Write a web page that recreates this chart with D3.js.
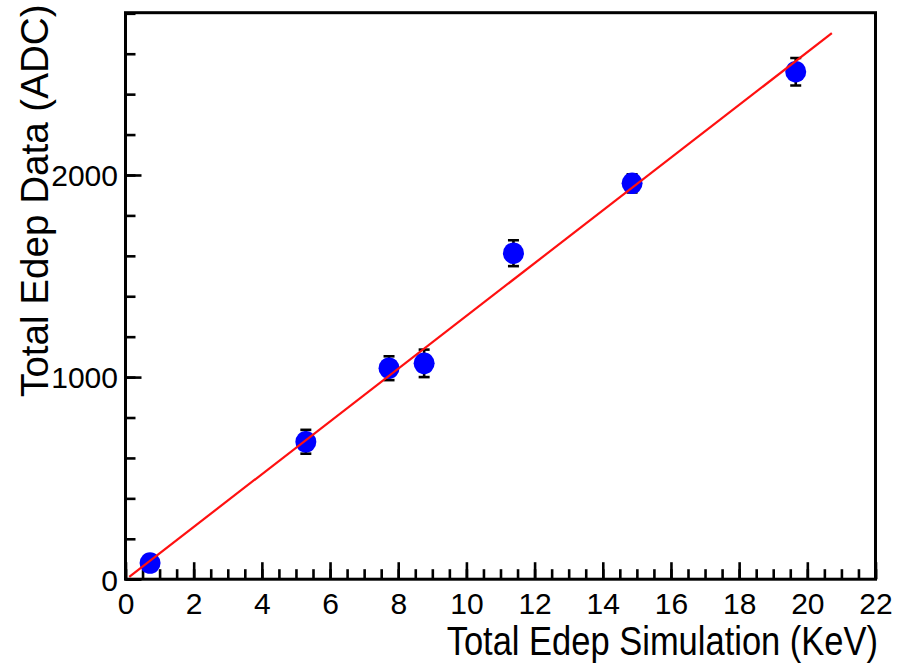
<!DOCTYPE html>
<html>
<head>
<meta charset="utf-8">
<script src="https://cdn.jsdelivr.net/npm/d3@7"></script>
<style>
  html, body { margin: 0; padding: 0; background: #fff; }
  svg { display: block; }
  text { font-family: "Liberation Sans", Arial, Helvetica, sans-serif; fill: #000; }
</style>
</head>
<body>
<svg id="chart" width="903" height="664"></svg>
<script>
// Measured energy deposits: simulation (keV) vs. data (ADC counts)
const simEnergy = [0.72, 5.29, 7.73, 8.76, 11.38, 14.86, 19.66];
const adcData   = [80, 680, 1044, 1068, 1613, 1959, 2511];
const adcError  = [30, 59, 59, 68, 64, 45, 68];

// Linear fit  ADC = slope * E + intercept, over the fitted range
const fitSlope = 130.5;
const fitIntercept = -2.4;
const fitRange = [0.11, 20.72];

// Axis ticks
const xMajorTicks = [0, 2, 4, 6, 8, 10, 12, 14, 16, 18, 20, 22];
const xMinorTicks = d3.range(0, 22.01, 0.5);
const yMajorTicks = [0, 1000, 2000];
const yMinorTicks = d3.range(0, 2801, 200);

const xTitle = "Total Edep Simulation (KeV)";
const yTitle = "Total Edep Data (ADC)";

const frame = { left: 125.5, right: 875.5, top: 12.7, bottom: 579.2 };

const svg = d3.select("#chart");

const x = d3.scaleLinear().domain([0, 22]).range([frame.left, frame.right]);
const y = d3.scaleLinear().domain([0, 2803]).range([frame.bottom, frame.top]);

// Minor ticks (no labels)
const xMinor = svg.append("g")
  .attr("transform", `translate(0,${frame.bottom})`)
  .call(d3.axisBottom(x).tickValues(xMinorTicks).tickSize(-10).tickFormat(""));
const yMinor = svg.append("g")
  .attr("transform", `translate(${frame.left},0)`)
  .call(d3.axisLeft(y).tickValues(yMinorTicks).tickSize(-10).tickFormat(""));

// Major ticks with labels
const xMajor = svg.append("g")
  .attr("transform", `translate(0,${frame.bottom})`)
  .call(d3.axisBottom(x).tickValues(xMajorTicks).tickSize(-17).tickFormat(d3.format("d")));
const yMajor = svg.append("g")
  .attr("transform", `translate(${frame.left},0)`)
  .call(d3.axisLeft(y).tickValues(yMajorTicks).tickSize(-16).tickFormat(d3.format("d")));

[xMinor, yMinor, xMajor, yMajor].forEach(g => {
  g.select(".domain").remove();
  g.selectAll(".tick line").attr("stroke", "#000").attr("stroke-width", 2.6);
});

xMajor.selectAll(".tick text")
  .attr("dy", null)
  .attr("y", 34.8)
  .attr("font-size", 30)
  .attr("font-family", null);
yMajor.selectAll(".tick text")
  .attr("dy", null)
  .attr("x", -7.5)
  .attr("y", 10.8)
  .attr("font-size", 30)
  .attr("font-family", null);

// Clip for marks inside the frame
svg.append("clipPath").attr("id", "frameClip")
  .append("rect")
  .attr("x", frame.left).attr("y", frame.top)
  .attr("width", frame.right - frame.left)
  .attr("height", frame.bottom - frame.top);

const plot = svg.append("g").attr("clip-path", "url(#frameClip)");

const points = simEnergy.map((e, i) => ({ e, adc: adcData[i], err: adcError[i] }));

// Error bars with end caps
const capHalf = 5.5;
const eb = plot.append("g").attr("stroke", "#000").attr("stroke-width", 2.6);
eb.selectAll("line.v").data(points).join("line").attr("class", "v")
  .attr("x1", d => x(d.e)).attr("x2", d => x(d.e))
  .attr("y1", d => y(d.adc + d.err)).attr("y2", d => y(d.adc - d.err));
eb.selectAll("line.top").data(points).join("line").attr("class", "top")
  .attr("x1", d => x(d.e) - capHalf).attr("x2", d => x(d.e) + capHalf)
  .attr("y1", d => y(d.adc + d.err)).attr("y2", d => y(d.adc + d.err));
eb.selectAll("line.bot").data(points).join("line").attr("class", "bot")
  .attr("x1", d => x(d.e) - capHalf).attr("x2", d => x(d.e) + capHalf)
  .attr("y1", d => y(d.adc - d.err)).attr("y2", d => y(d.adc - d.err));

// Markers
plot.append("g").selectAll("ellipse").data(points).join("ellipse")
  .attr("cx", d => x(d.e))
  .attr("cy", d => y(d.adc))
  .attr("rx", 10.5)
  .attr("ry", 10.8)
  .attr("fill", "#0000ff");

// Fit line
const fitLine = d3.line().x(d => x(d)).y(d => y(fitSlope * d + fitIntercept));
plot.append("path")
  .datum(fitRange)
  .attr("d", fitLine)
  .attr("fill", "none")
  .attr("stroke", "#ff1010")
  .attr("stroke-width", 2.2);

// Frame
svg.append("rect")
  .attr("x", frame.left).attr("y", frame.top)
  .attr("width", frame.right - frame.left)
  .attr("height", frame.bottom - frame.top)
  .attr("fill", "none")
  .attr("stroke", "#000")
  .attr("stroke-width", 3);

// Axis titles (x title drawn slightly tall and narrow)
svg.append("text")
  .attr("transform", "translate(878,654.5) scale(1,1.2)")
  .attr("text-anchor", "end")
  .attr("font-size", 34.5)
  .text(xTitle);

svg.append("text")
  .attr("transform", "translate(48.3,4.5) rotate(-90)")
  .attr("text-anchor", "end")
  .attr("font-size", 38.6)
  .text(yTitle);
</script>
</body>
</html>
